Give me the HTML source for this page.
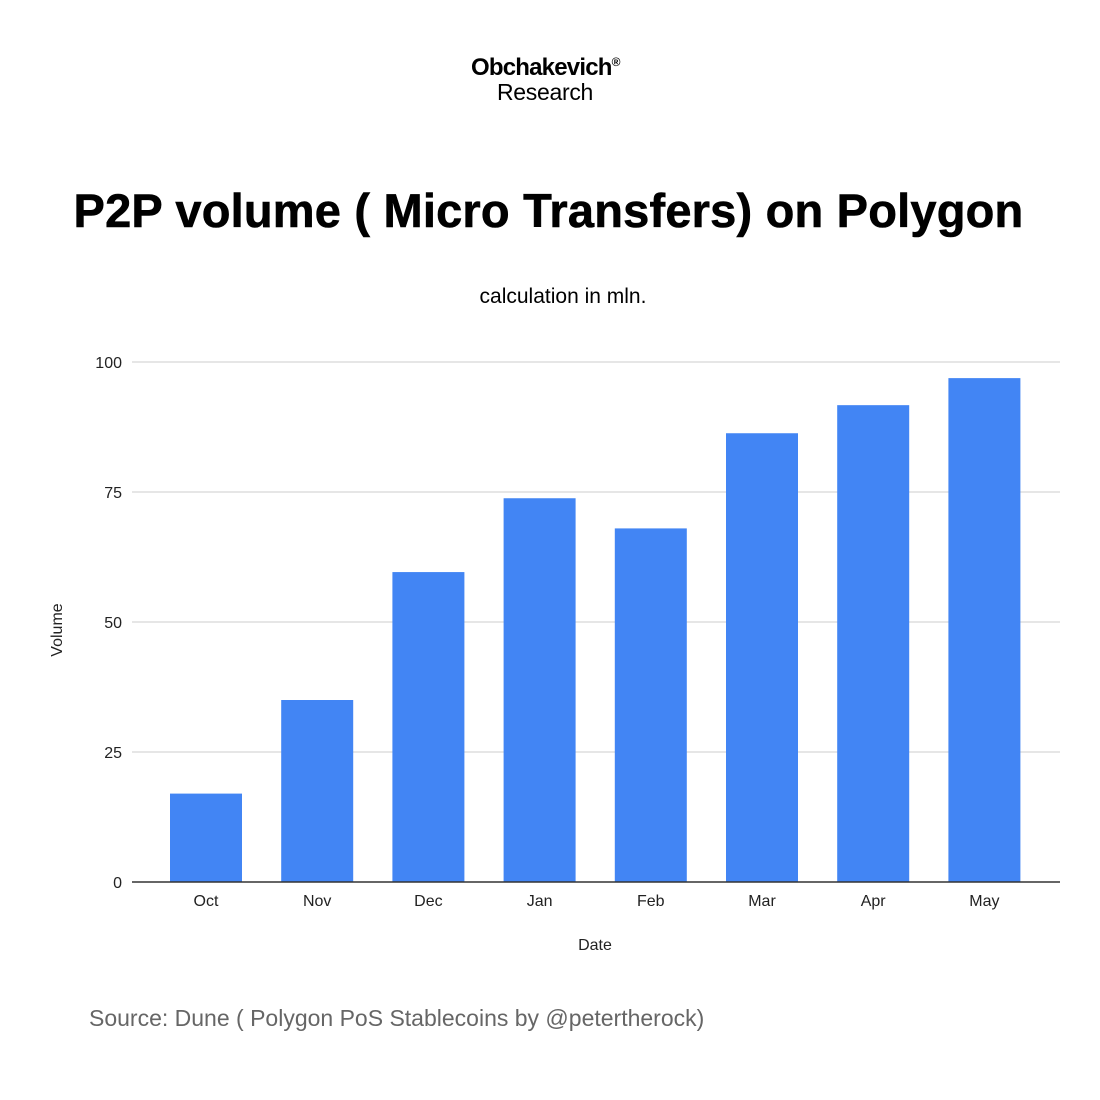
<!DOCTYPE html>
<html><head><meta charset="utf-8"><style>
body{margin:0;background:#fff;font-family:"Liberation Sans",sans-serif;}
#wrap{position:relative;width:1100px;height:1100px;overflow:hidden;}
.t{position:absolute;white-space:nowrap;}
</style></head><body>
<div id="wrap">
<div class="t" style="left:471px;top:54px;font-size:24px;font-weight:bold;letter-spacing:-0.8px;color:#000">Obchakevich<sup style="font-size:12px">®</sup></div>
<div class="t" style="left:497px;top:79px;font-size:23px;color:#000;letter-spacing:-0.3px">Research</div>
<div class="t" style="left:0;width:1097px;text-align:center;top:183px;font-size:47px;font-weight:bold;letter-spacing:0.2px;color:#000;-webkit-text-stroke:0.6px #000">P2P volume ( Micro Transfers) on Polygon</div>
<div class="t" style="left:0;width:1126px;text-align:center;top:285px;font-size:21px;color:#000">calculation in mln.</div>
<div class="t" style="left:89px;top:1005px;font-size:23px;color:#666">Source: Dune ( Polygon PoS Stablecoins by @petertherock)</div>
<svg id="chart" width="1100" height="1100" style="position:absolute;left:0;top:0"></svg>
</div>
<script>
const categories=["Oct","Nov","Dec","Jan","Feb","Mar","Apr","May"];
const values=[17,35,59.6,73.8,68,86.3,91.7,96.9];
const ticks=[0,25,50,75,100];
const NS="http://www.w3.org/2000/svg";
const svg=document.getElementById("chart");
const x0=150.4,bw=111.2,y0=882,yTop=362,yMax=100;
const y=v=>y0-(v/yMax)*(y0-yTop);
const xc=i=>x0+bw*(i+0.5);
function mk(t,a){const e=document.createElementNS(NS,t);for(const k in a)e.setAttribute(k,a[k]);svg.appendChild(e);return e;}
ticks.forEach(t=>{
 if(t>0){const l=mk("line",{x1:132,x2:1060,y1:y(t),y2:y(t),stroke:"#ccc","stroke-width":1});
 
 }
 const tx=mk("text",{x:122,y:y(t)+6,"text-anchor":"end","font-size":16,"font-family":"Liberation Sans, sans-serif",fill:"#222"});
 tx.textContent=t;
 
 
});
categories.forEach((c,i)=>{
 const r=mk("rect",{x:xc(i)-36,y:y(values[i]),width:72,height:y0-y(values[i]),fill:"#4285f4"});
 
 
 const tx=mk("text",{x:xc(i),y:906,"text-anchor":"middle","font-size":16,"font-family":"Liberation Sans, sans-serif",fill:"#222"});
 tx.textContent=c;
 
 
});
const ax=mk("line",{x1:132,x2:1060,y1:y0,y2:y0,stroke:"#333","stroke-width":1.5});


const xt=mk("text",{x:595,y:950,"text-anchor":"middle","font-size":16,"font-family":"Liberation Sans, sans-serif",fill:"#222"});
xt.textContent="Date";


const yt=mk("text",{x:0,y:0,"text-anchor":"middle","font-size":16,"font-family":"Liberation Sans, sans-serif",fill:"#222",transform:"translate(62,630) rotate(-90)"});
yt.textContent="Volume";


</script>
</body></html>
